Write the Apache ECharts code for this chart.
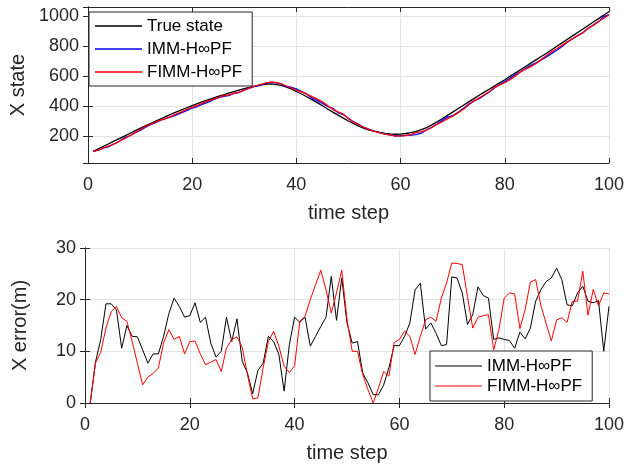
<!DOCTYPE html>
<html>
<head>
<meta charset="utf-8">
<script src="https://cdn.jsdelivr.net/npm/echarts@6/dist/echarts.min.js"></script>
<style>
  html, body { margin: 0; padding: 0; background: #fff; }
  #chart { width: 627px; height: 467px; }
</style>
</head>
<body>
<div id="chart"></div>
<script>
// time steps 1..100
const steps = Array.from({ length: 100 }, (_, i) => i + 1)

// top panel: X state
const trueState = [101, 118, 135, 152, 169, 186, 203, 220, 237, 254,
  270, 286, 302, 318, 333, 348, 363, 377, 391, 405,
  418, 431, 443, 455, 466, 477, 488, 498, 508, 518,
  527, 535, 542, 547, 549, 546, 540, 530, 516, 499,
  482, 464, 445, 425, 404, 383, 362, 342, 322, 303,
  285, 268, 254, 243, 234, 227, 221, 217, 215, 216,
  220, 226, 234, 245, 259, 277, 297, 318, 340, 362,
  384, 406, 428, 450, 472, 493, 514, 535, 556, 577,
  599, 621, 643, 665, 687, 709, 731, 753, 776, 799,
  822, 845, 868, 891, 914, 937, 960, 983, 1006, 1029]
const immState = [101, 110, 123, 133, 150, 168, 192, 205, 224, 241,
  260, 278, 292, 308, 320, 331, 343, 358, 374, 388,
  399, 415, 426, 443, 457, 467, 471, 486, 492, 510,
  521, 533, 538, 553, 560, 558, 549, 532, 527, 516,
  498, 481, 456, 438, 419, 400, 387, 358, 346, 319,
  297, 280, 260, 247, 236, 225, 217, 210, 204, 205,
  207, 210, 212, 222, 245, 261, 283, 307, 329, 338,
  360, 385, 413, 433, 449, 472, 494, 523, 543, 565,
  587, 610, 629, 653, 672, 689, 709, 729, 752, 773,
  798, 826, 849, 870, 891, 917, 941, 963, 996, 1010]
const fimmState = [101, 110, 125, 137, 151, 167, 186, 204, 225, 246,
  266, 281, 296, 311, 321, 334, 351, 364, 381, 393,
  406, 421, 436, 447, 458, 471, 477, 486, 495, 507,
  521, 534, 543, 554, 561, 560, 551, 537, 522, 506,
  498, 481, 465, 448, 430, 405, 379, 363, 348, 319,
  295, 278, 260, 246, 234, 224, 215, 212, 203, 204,
  206, 213, 225, 232, 243, 260, 281, 298, 317, 335,
  357, 379, 407, 435, 455, 476, 497, 525, 542, 557,
  578, 600, 629, 647, 664, 685, 712, 738, 764, 783,
  805, 829, 848, 871, 888, 920, 938, 964, 985, 1008]

// bottom panel: X error (m)
const immError = [0, 7.9, 12.3, 19.2, 19.2, 18, 10.6, 15, 12.9, 12.8,
  10.3, 7.7, 9.5, 9.5, 12.9, 17.3, 20.3, 18.7, 16.6, 16.9,
  19.4, 15.6, 16.6, 11.6, 8.9, 10, 16.6, 11.9, 16.3, 8.1,
  5.8, 1.8, 6.3, 7.7, 12.9, 11.9, 9.4, 2.3, 11.3, 16.6,
  15.6, 16.6, 11, 12.9, 14.8, 16.6, 24.5, 16, 24.2, 15.5,
  11.6, 11.9, 5.8, 3.9, 1.6, 1.6, 3.5, 6.8, 11.1, 11.1,
  12.9, 15.5, 21.9, 23.2, 14.3, 15.5, 13.5, 11.1, 11.3, 24.4,
  24.2, 21.3, 15.2, 17.1, 22.5, 20.8, 20.3, 12.3, 12.6, 12.3,
  12.1, 10.6, 13.7, 12.4, 14.5, 19.7, 21.9, 23.5, 24.2, 26.1,
  23.9, 19, 18.8, 21.3, 22.6, 19.7, 19.4, 19.8, 10, 18.7]
const fimmError = [0, 7.7, 9.8, 14.5, 17.7, 18.7, 16.5, 15.8, 11.9, 7.7,
  3.5, 5, 5.7, 6.8, 11.6, 14.2, 12.3, 12.9, 9.5, 11.9,
  12, 9.5, 7.4, 7.9, 8.4, 6.1, 10.6, 12.3, 12.8, 10.8,
  5.5, 0.8, 1, 6.8, 11.9, 13.9, 11, 7.1, 5.9, 7.2,
  15.8, 16.8, 20, 22.9, 25.7, 21.9, 17.4, 21.3, 25.7, 16.2,
  10, 10, 5.5, 2.6, 0, 2.9, 6.1, 5.2, 11.7, 12.3,
  13.9, 12.9, 9.4, 12.9, 16.1, 16.6, 15.8, 20.3, 23.2, 27.1,
  27, 26.8, 20.6, 14.5, 16.6, 16.9, 17.1, 10.3, 14.2, 20.3,
  21.3, 21.1, 14.4, 18.1, 23.4, 23.9, 18.9, 15.4, 12, 16.1,
  16.5, 15.6, 19.7, 19.7, 25.5, 17, 22, 18.8, 21.3, 21.1]

const names = ['True state', 'IMM-H\u221ePF', 'FIMM-H\u221ePF']

const pairs = (ys) => steps.map((t, i) => [t, ys[i]])

const font = 'Liberation Sans, Arial, Helvetica, sans-serif'
const ink = '#262626'

const mainX = (gi, showName) => ({
  type: 'value', gridIndex: gi, min: 0, max: 100, interval: 20,
  name: showName ? 'time step' : '', nameLocation: 'middle', nameGap: 40,
  nameTextStyle: { fontFamily: font, fontSize: 20, color: ink },
  axisLine: { lineStyle: { color: ink } },
  axisTick: { inside: true, length: 5, lineStyle: { color: ink } },
  axisLabel: { fontFamily: font, fontSize: 18, color: ink, margin: 13 },
  splitLine: { show: true, lineStyle: { color: '#e3e3e3' } }
})
const boxX = (gi) => ({
  type: 'value', gridIndex: gi, position: 'top', min: 0, max: 100, interval: 20,
  axisLine: { lineStyle: { color: ink } },
  axisTick: { inside: true, length: 5, lineStyle: { color: ink } },
  axisLabel: { show: false }, splitLine: { show: false }
})

const option = {
  animation: false,
  backgroundColor: '#fff',
  grid: [
    { left: 85, right: 16, top: 7, height: 156 },
    { left: 85, right: 16, top: 248, height: 155 }
  ],
  xAxis: [mainX(0, true), boxX(0), mainX(1, true), boxX(1)],
  yAxis: [
    {
      type: 'value', gridIndex: 0, min: 24, max: 1060,
      name: 'X state', nameLocation: 'middle', nameGap: 55,
      nameTextStyle: { fontFamily: font, fontSize: 20, color: ink },
      axisLine: { show: true, lineStyle: { color: ink } },
      axisTick: { show: true, inside: true, length: 5, lineStyle: { color: ink } },
      axisLabel: { fontFamily: font, fontSize: 18, color: ink, margin: 9,
        showMinLabel: false, showMaxLabel: false, formatter: (v) => String(v) },
      splitLine: { show: true, lineStyle: { color: '#e3e3e3' } }
    },
    {
      type: 'value', gridIndex: 0, position: 'right', min: 24, max: 1060,
      axisLine: { show: true, lineStyle: { color: ink } },
      axisTick: { show: true, inside: true, length: 5, lineStyle: { color: ink } },
      axisLabel: { show: false }, splitLine: { show: false }
    },
    {
      type: 'value', gridIndex: 1, min: 0, max: 30, interval: 10,
      name: 'X error(m)', nameLocation: 'middle', nameGap: 55,
      nameTextStyle: { fontFamily: font, fontSize: 20, color: ink },
      axisLine: { show: true, lineStyle: { color: ink } },
      axisTick: { show: true, inside: true, length: 5, lineStyle: { color: ink } },
      axisLabel: { fontFamily: font, fontSize: 18, color: ink, margin: 9 },
      splitLine: { show: true, lineStyle: { color: '#e3e3e3' } }
    },
    {
      type: 'value', gridIndex: 1, position: 'right', min: 0, max: 30, interval: 10,
      axisLine: { show: true, lineStyle: { color: ink } },
      axisTick: { show: true, inside: true, length: 5, lineStyle: { color: ink } },
      axisLabel: { show: false }, splitLine: { show: false }
    }
  ],
  legend: [
    {
      data: names, orient: 'vertical', left: 89, top: 12,
      icon: 'rect', itemWidth: 47, itemHeight: 1.5, itemGap: 3,
      padding: [4, 10, 4, 6],
      backgroundColor: '#fff', borderColor: ink, borderWidth: 1,
      textStyle: { fontFamily: font, fontSize: 17, color: '#000', lineHeight: 20 }
    },
    {
      data: [names[1] + '#2', names[2] + '#2'], orient: 'vertical', left: 430, top: 351,
      icon: 'rect', itemWidth: 47, itemHeight: 1, itemGap: 2,
      padding: [6, 10, 6, 5],
      backgroundColor: '#fff', borderColor: ink, borderWidth: 1,
      formatter: (n) => n.replace('#2', ''),
      textStyle: { fontFamily: font, fontSize: 17, color: '#000', lineHeight: 18 }
    }
  ],
  series: [
    { name: names[0], type: 'line', xAxisIndex: 0, yAxisIndex: 0, symbol: 'none',
      data: pairs(trueState), lineStyle: { color: '#000', width: 1.3 }, itemStyle: { color: '#000' } },
    { name: names[1], type: 'line', xAxisIndex: 0, yAxisIndex: 0, symbol: 'none',
      data: pairs(immState), lineStyle: { color: '#0000ff', width: 1.3 }, itemStyle: { color: '#0000ff' } },
    { name: names[2], type: 'line', xAxisIndex: 0, yAxisIndex: 0, symbol: 'none',
      data: pairs(fimmState), lineStyle: { color: '#ff0000', width: 1.3 }, itemStyle: { color: '#ff0000' } },
    { name: names[1] + '#2', type: 'line', xAxisIndex: 2, yAxisIndex: 2, symbol: 'none',
      data: pairs(immError), lineStyle: { color: '#000', width: 1 }, itemStyle: { color: '#000' } },
    { name: names[2] + '#2', type: 'line', xAxisIndex: 2, yAxisIndex: 2, symbol: 'none',
      data: pairs(fimmError), lineStyle: { color: '#ff0000', width: 1 }, itemStyle: { color: '#ff0000' } }
  ]
}

const chart = echarts.init(document.getElementById('chart'))
chart.setOption(option)
</script>
</body>
</html>
